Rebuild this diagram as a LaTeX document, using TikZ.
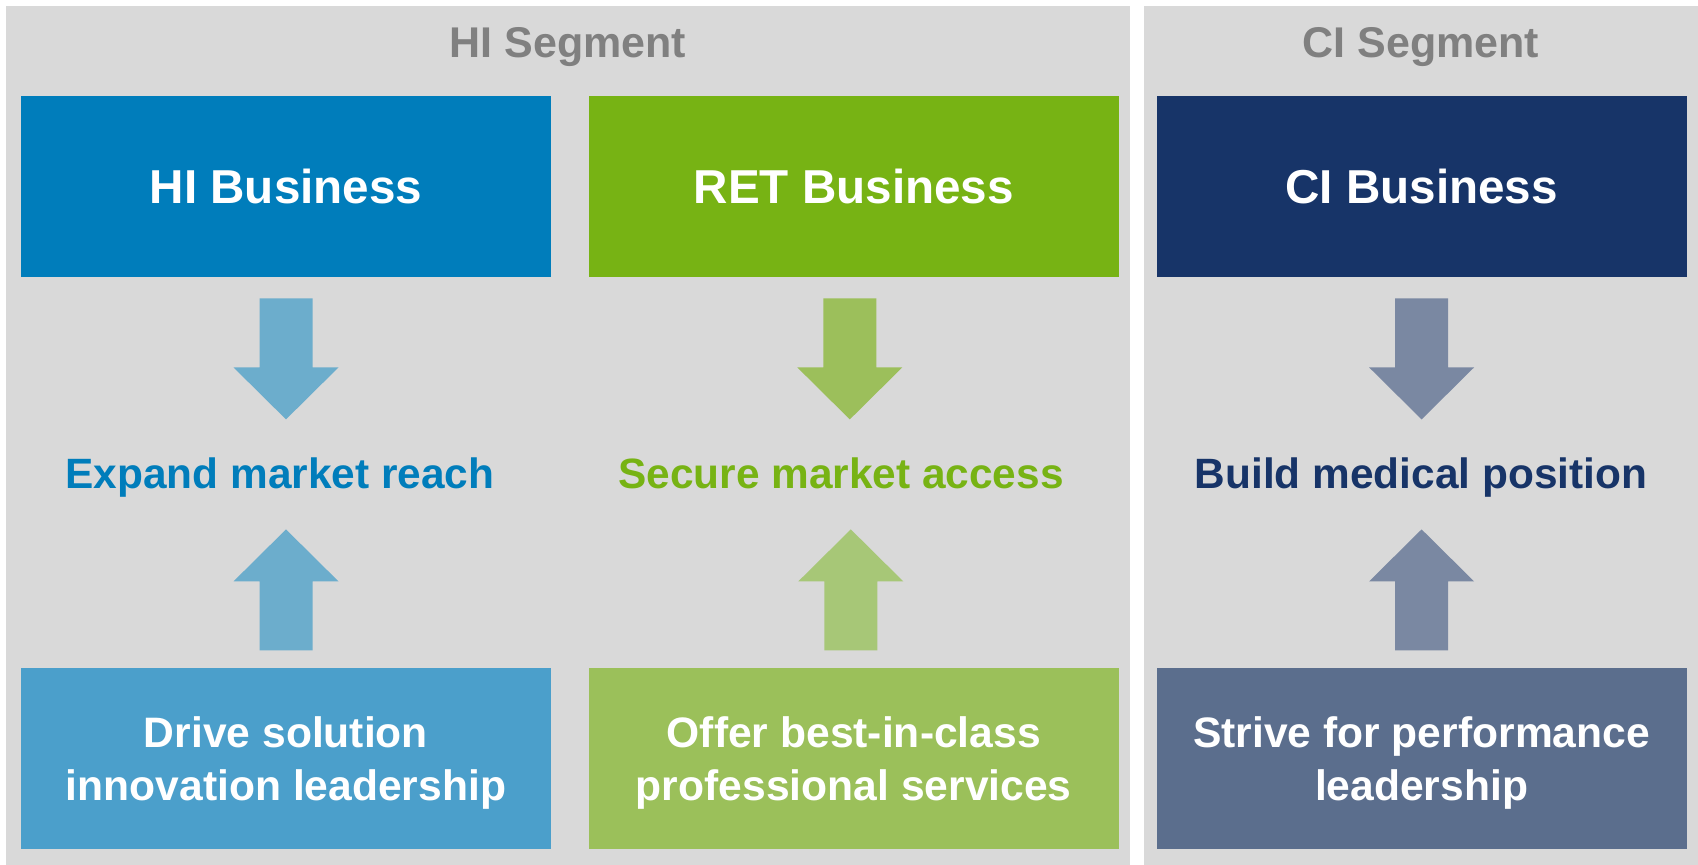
\documentclass[tikz,border=0pt]{standalone}
\usepackage{fontspec}
\setmainfont{Liberation Sans}
\usetikzlibrary{positioning,calc}

\definecolor{panelgray}{HTML}{D9D9D9}
\definecolor{headgray}{HTML}{808080}
\definecolor{hiblue}{HTML}{007DBB}
\definecolor{hilight}{HTML}{4B9FCB}
\definecolor{hiarrow}{HTML}{6CADCC}
\definecolor{retgreen}{HTML}{77B314}
\definecolor{retlight}{HTML}{9BC05A}
\definecolor{retdown}{HTML}{9CBF5B}
\definecolor{retup}{HTML}{A7C777}
\definecolor{cinavy}{HTML}{173468}
\definecolor{cilight}{HTML}{5B6E8D}
\definecolor{ciarrow}{HTML}{7A88A2}

% fat block arrow, drawn downwards from the middle of its tail
\tikzset{
  downblock/.pic = {\fill[#1] (-26.5,0) -- (26.5,0) -- (26.5,69) -- (52.5,69)
    -- (0,121) -- (-52.5,69) -- (-26.5,69) -- cycle;}
}

\begin{document}
\begin{tikzpicture}[x=0.5pt, y=-0.5pt,
  every node/.style = {align=center, inner sep=0pt},
  segment/.style = {anchor=base, text=headgray,
    font=\bfseries\fontsize{21.5}{26}\selectfont},
  business/.style = {minimum width=265pt, minimum height=90.5pt, text=white,
    font=\bfseries\fontsize{23.8}{28}\selectfont},
  driver/.style = {minimum width=265pt, minimum height=90.5pt, text=white,
    text depth=-4.6pt, font=\bfseries\fontsize{21.3}{26.35}\selectfont},
  goal/.style = {anchor=base, font=\bfseries\fontsize{21.2}{25}\selectfont}
    ]
  \useasboundingbox (0,0) rectangle (1698,865);
  \fill[white] (0,0) rectangle (1698,865);
  \fill[panelgray] (6,6) rectangle (1130,865);
  \fill[panelgray] (1144,6) rectangle (1698,865);

  \node[segment] (hiseg) at (568,57.3) {HI Segment};
  \node[segment] (ciseg) at (1421,57.3) {CI Segment};

  % businesses on top
  \node[business, fill=hiblue] (hitop) at (286,186.5) {HI Business};
  \node[business, fill=retgreen, right=18.5pt of hitop] (rettop) {RET Business};
  \node[business, fill=cinavy, right=18.5pt of rettop] (citop) {CI Business};

  % drivers below
  \node[driver, fill=hilight, below=195pt of hitop] (hibot) {Drive solution\\innovation leadership};
  \node[driver, fill=retlight, below=195pt of rettop] (retbot) {Offer best-in-class\\professional services};
  \node[driver, fill=cilight, below=195pt of citop] (cibot) {Strive for performance\\leadership};

  % goals in between
  \node[goal, text=hiblue] (higoal) at (280,489) {Expand market reach};
  \node[goal, text=retgreen] (retgoal) at (841,489) {Secure market access};
  \node[goal, text=cinavy] (cigoal) at (1421,489) {Build medical position};

  \pic at ($(hitop.south)+(0,21)$) {downblock=hiarrow};
  \pic at ($(rettop.south)+(-4,21)$) {downblock=retdown};
  \pic at ($(citop.south)+(0,21)$) {downblock=ciarrow};
  \pic[rotate=180] at ($(hibot.north)+(0,-17)$) {downblock=hiarrow};
  \pic[rotate=180] at ($(retbot.north)+(-3,-17)$) {downblock=retup};
  \pic[rotate=180] at ($(cibot.north)+(0,-17)$) {downblock=ciarrow};
\end{tikzpicture}
\end{document}
